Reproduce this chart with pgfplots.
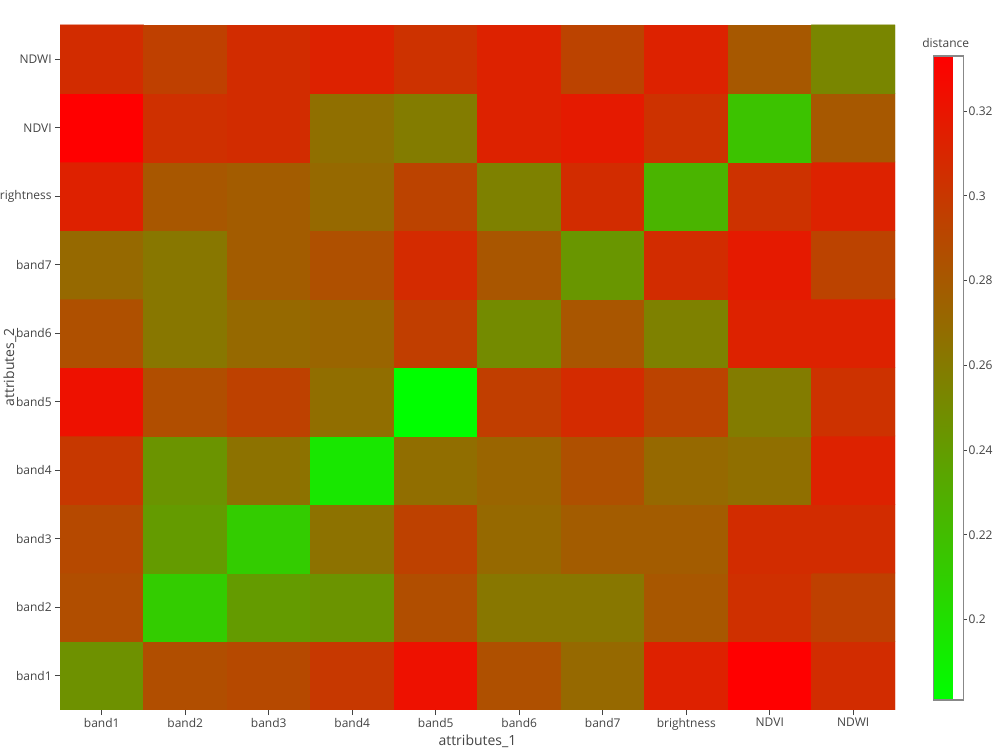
\documentclass[border=0pt]{standalone}
\usepackage{pgfplots}
\pgfplotsset{compat=1.18}
\usepackage{fontspec}
\setmainfont{Open Sans}
\definecolor{txt}{HTML}{444444}
\definecolor{cbborder}{HTML}{888888}
\begin{document}
\begin{tikzpicture}
\path[use as bounding box] (0,0) rectangle (750bp,562.5bp);
\begin{axis}[
  at={(45bp,30bp)}, anchor=south west,
  scale only axis, width=626.25bp, height=513.75bp,
  xmin=-0.5, xmax=9.5, ymin=-0.5, ymax=9.5,
  xtick={0,...,9}, ytick={0,...,9},
  xticklabels={band1,band2,band3,band4,band5,band6,band7,brightness,NDVI,NDWI},
  yticklabels={band1,band2,band3,band4,band5,band6,band7,brightness,NDVI,NDWI},
  axis line style={draw=none},
  tick align=outside, major tick length=3.75bp,
  xtick pos=bottom, ytick pos=left,
  tick style={draw=txt, line width=0.6pt},
  ticklabel style={font=\fontsize{9bp}{11bp}\selectfont, text=txt},
  xticklabel style={yshift=1bp},
  yticklabel style={xshift=1bp},
  xlabel={attributes\_1}, ylabel={attributes\_2},
  label style={font=\fontsize{10.5bp}{12bp}\selectfont, text=txt},
  xlabel style={at={(axis description cs:0.5,-0.0453)}, anchor=center},
  ylabel style={at={(axis description cs:-0.0599,0.5)}, anchor=center},
  colormap={gr}{rgb255=(0,255,0) rgb255=(255,0,0)},
  point meta min=0.181, point meta max=0.333,
  colorbar,
  colorbar style={
    at={(parent axis.north east)}, anchor=north west,
    xshift=20.25bp, yshift=-23.25bp,
    width=22.5bp, height=483bp,
    axis line style={draw=cbborder, line width=0.8pt},
    ytick={0.2,0.22,0.24,0.26,0.28,0.3,0.32},
    yticklabel pos=right, ytick pos=right,
    tick align=outside, major tick length=2.5bp,
    tick style={draw=txt, line width=0.5pt},
    yticklabel style={font=\fontsize{9bp}{11bp}\selectfont, text=txt, xshift=-2bp,
      /pgf/number format/fixed, /pgf/number format/precision=2,
      /pgf/number format/assume math mode=true},
  },
]
\addplot[matrix plot*, mesh/cols=10, point meta=explicit] table[meta=c] {
x y c
0 0 0.2464
1 0 0.2859
2 0 0.2889
3 0 0.2988
4 0 0.3216
5 0 0.2844
6 0 0.2699
7 0 0.3125
8 0 0.3330
9 0 0.3056
0 1 0.2859
1 1 0.2114
2 1 0.2403
3 1 0.2441
4 1 0.2859
5 1 0.2616
6 1 0.2616
7 1 0.2806
8 1 0.3034
9 1 0.2942
0 2 0.2889
1 2 0.2403
2 2 0.2114
3 2 0.2646
4 2 0.2935
5 2 0.2699
6 2 0.2775
7 2 0.2775
8 2 0.3056
9 2 0.3056
0 3 0.2988
1 3 0.2441
2 3 0.2646
3 3 0.1954
4 3 0.2669
5 3 0.2722
6 3 0.2844
7 3 0.2699
8 3 0.2661
9 3 0.3117
0 4 0.3216
1 4 0.2859
2 4 0.2935
3 4 0.2669
4 4 0.1810
5 4 0.2950
6 4 0.3064
7 4 0.2920
8 4 0.2585
9 4 0.3026
0 5 0.2844
1 5 0.2616
2 5 0.2699
3 5 0.2722
4 5 0.2950
5 5 0.2494
6 5 0.2813
7 5 0.2555
8 5 0.3117
9 5 0.3117
0 6 0.2699
1 6 0.2616
2 6 0.2775
3 6 0.2844
4 6 0.3064
5 6 0.2813
6 6 0.2433
7 6 0.3056
8 6 0.3163
9 6 0.2920
0 7 0.3125
1 7 0.2806
2 7 0.2775
3 7 0.2699
4 7 0.2920
5 7 0.2555
6 7 0.3056
7 7 0.2251
8 7 0.3026
9 7 0.3117
0 8 0.3330
1 8 0.3034
2 8 0.3056
3 8 0.2661
4 8 0.2585
5 8 0.3117
6 8 0.3163
7 8 0.3026
8 8 0.2167
9 8 0.2798
0 9 0.3056
1 9 0.2942
2 9 0.3056
3 9 0.3117
4 9 0.3026
5 9 0.3117
6 9 0.2920
7 9 0.3117
8 9 0.2798
9 9 0.2524
};
\end{axis}
\node[anchor=west, font=\fontsize{9bp}{11bp}\selectfont, text=txt, inner sep=0pt] at (691.5bp,530.25bp) {distance};
\end{tikzpicture}
\end{document}
